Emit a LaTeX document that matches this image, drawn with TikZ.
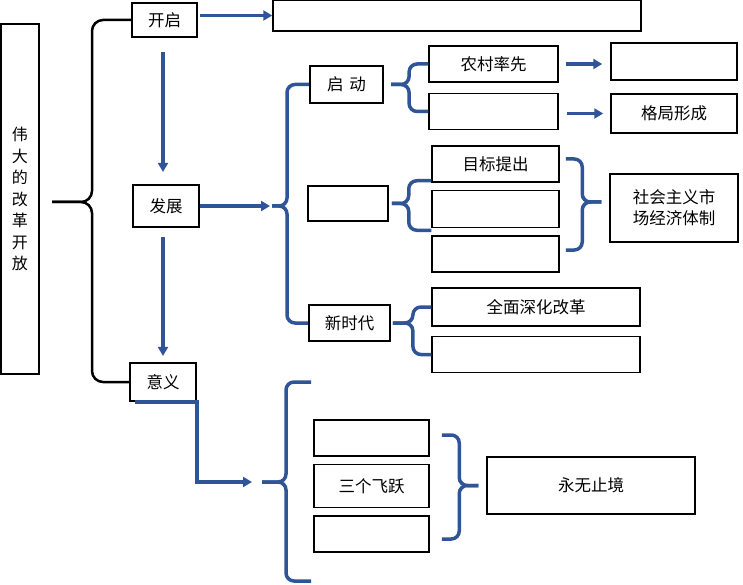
\documentclass[tikz,border=0pt]{standalone}
\usepackage{fontspec}
\setmainfont{Noto Sans CJK SC}
\usepackage{xcolor}
\usepackage{tikz}
\usetikzlibrary{arrows.meta}
\usetikzlibrary{positioning}
\definecolor{lineblue}{RGB}{47,85,151}

\begin{document}
\begin{tikzpicture}
[
	x = 1pt, y = -1pt,
	box/.style	= {draw = black, line width = 1.5pt, inner sep = 0pt, minimum height = 36pt, font = \fontsize{16.5}{21}\selectfont},
	key/.style	= {box, line width = 2.2pt},
	flow/.style	= {draw = lineblue, line width = 3.5pt, -{Triangle[length = 9pt, width = 10pt]}},
	bluebrace/.style	= {draw = lineblue, line width = 3.5pt, rounded corners = 8pt},
	blackbrace/.style	= {draw = black, line width = 2.5pt, rounded corners = 11pt},
	node distance = 7pt,
]
	\useasboundingbox (0,0) rectangle (743,585);

	\node (whole) [key, minimum width = 38pt, minimum height = 350pt, align = center, font = \fontsize{16}{21.5}\selectfont] at (20,199) {伟\\大\\的\\改\\革\\开\\放};
	%
	\node (kaiqi) [key, minimum width = 65pt, minimum height = 34pt] at (164.5,20) {开启};
	\node (topbox) [box, minimum width = 368pt, minimum height = 31pt] at (457,15.5) {};
	\node (fazhan) [key, minimum width = 66pt, minimum height = 42pt] at (166,206) {发展};
	\node (yiyi) [key, minimum width = 66pt, minimum height = 38pt] at (163,382) {意义};
	%
	\node (qidong) [key, minimum width = 73pt, minimum height = 37pt] at (346.5,84.5) {启\hspace{6pt}动};
	\node (nongcun) [box, minimum width = 129pt] at (493.5,64) {农村率先};
	\node (nongcun2) [box, minimum width = 129pt, below = 10pt of nongcun] {};
	\node (result1) [box, minimum width = 126pt, minimum height = 37pt] at (674,61.5) {};
	\node (geju) [box, minimum width = 126pt, minimum height = 39pt] at (674,113.5) {格局形成};
	%
	\node (gaige) [box, minimum width = 80pt, minimum height = 35pt] at (348,203.5) {};
	\node (mubiao) [box, minimum width = 127pt] at (495.5,164) {目标提出};
	\node (gaige2) [box, minimum width = 127pt, minimum height = 37pt, below = of mubiao] {};
	\node (gaige3) [box, minimum width = 127pt, below = of gaige2] {};
	\node (shichang) [box, minimum width = 128pt, minimum height = 68pt, align = center] at (674,208) {社会主义市\\场经济体制};
	%
	\node (xinshidai) [box, line width = 1.8pt, minimum width = 81pt] at (349.5,323) {新时代};
	\node (shenhua) [box, minimum width = 208pt, minimum height = 38pt] at (536,307) {全面深化改革};
	\node (shenhua2) [box, minimum width = 208pt, below = 9pt of shenhua] {};
	%
	\node (leap1) [box, minimum width = 115pt] at (371.5,438) {};
	\node (sange) [box, minimum width = 115pt, minimum height = 43pt, below = of leap1] {三个飞跃};
	\node (leap3) [box, minimum width = 115pt, below = of sange] {};
	\node (yongwu) [box, minimum width = 208pt, minimum height = 57pt] at (591,485.5) {永无止境};

	\coordinate (maintip) at (52,202);
	\coordinate (devtip) at (272,206);
	\coordinate (qtip) at ([xshift = 7pt]qidong.east);
	\coordinate (gtip) at ([xshift = 3pt]gaige.east);
	\coordinate (xtip) at ([xshift = 2pt]xinshidai.east);
	\coordinate (mtip) at ([xshift = -8pt, yshift = 6pt]shichang.west);
	\coordinate (stip) at ([xshift = -8pt]yongwu.west);
	\coordinate (ytip) at (262,482);
	\coordinate (ytop) at (311,382);
	\coordinate (ybot) at (311,581);

	% braces
	\draw [blackbrace] (kaiqi.west) -| ([xshift = 40pt]maintip) -- (maintip);
	\draw [blackbrace] (maintip) -- ([xshift = 40pt]maintip) |- (yiyi.west);
	%
	\draw [bluebrace] (qidong.west) -| ([xshift = 15pt]devtip) -- (devtip);
	\draw [bluebrace] (devtip) -- ([xshift = 15pt]devtip) |- (xinshidai.west);
	%
	\draw [bluebrace] (nongcun.west) -| ([xshift = 18pt]qtip) -- (qtip);
	\draw [bluebrace] (qtip) -- ([xshift = 18pt]qtip) |- (nongcun2.west);
	%
	\draw [bluebrace] ([yshift = 2pt]mubiao.south west) -| ([xshift = 17pt]gtip) -- (gtip);
	\draw [bluebrace] (gtip) -- ([xshift = 17pt]gtip) |- ([yshift = -2pt]gaige2.south west);
	%
	\draw [bluebrace] (shenhua.west) -| ([xshift = 20pt]xtip) -- (xtip);
	\draw [bluebrace] (xtip) -- ([xshift = 20pt]xtip) |- (shenhua2.west);
	%
	\draw [bluebrace] ([xshift = 6pt, yshift = 5pt]mubiao.east) -| ([xshift = -19pt]mtip) -- (mtip);
	\draw [bluebrace] (mtip) -- ([xshift = -19pt]mtip) |- ([xshift = 6pt, yshift = 4pt]gaige3.east);
	%
	\draw [bluebrace] ([xshift = 12pt, yshift = 3pt]leap1.east) -| ([xshift = -19pt]stip) -- (stip);
	\draw [bluebrace] (stip) -- ([xshift = -19pt]stip) |- ([xshift = 12pt, yshift = -5pt]leap3.east);
	%
	\draw [bluebrace] (ytop) -| ([xshift = 24pt]ytip) -- (ytip);
	\draw [bluebrace] (ytip) -- ([xshift = 24pt]ytip) |- (ybot);

	% arrows
	\draw [flow, shorten < = 2pt] (kaiqi.east |- topbox.west) -- (topbox.west);
	\draw [flow, shorten < = 14pt, shorten > = 12pt] (kaiqi.south -| yiyi) -- (fazhan.north -| yiyi);
	\draw [flow, shorten < = 9pt, shorten > = 6pt] (fazhan.south -| yiyi) -- (yiyi.north);
	\draw [flow, shorten > = 2pt] (fazhan.east) -- (devtip);
	\draw [flow, shorten < = 7pt, shorten > = 8pt] (nongcun.east) -- (nongcun.east -| result1.west);
	\draw [flow, shorten < = 8pt, shorten > = 7pt] (geju.west -| nongcun2.east) -- (geju.west);
	\draw [flow, shorten > = 10pt] ([xshift = 6pt]yiyi.south west) -- (yiyi.south east) |- (ytip);

\end{tikzpicture}
\end{document}
